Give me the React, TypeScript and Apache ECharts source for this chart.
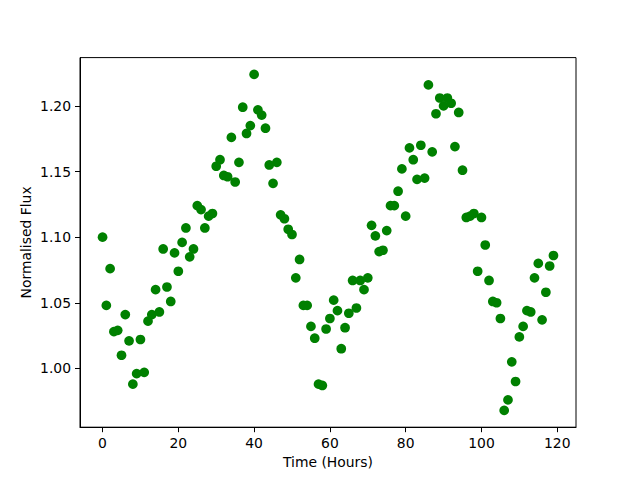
import React, { useEffect, useRef } from "react";
import * as echarts from "echarts";

const hours: number[] = Array.from({ length: 120 }, (_, i) => i);

const flux: number[] = [
  1.100, 1.048, 1.076, 1.028, 1.029, 1.010, 1.041, 1.021, 0.988, 0.996,
  1.022, 0.997, 1.036, 1.041, 1.060, 1.043, 1.091, 1.062, 1.051, 1.088,
  1.074, 1.096, 1.107, 1.085, 1.091, 1.124, 1.121, 1.107, 1.116, 1.118,
  1.154, 1.159, 1.147, 1.146, 1.176, 1.142, 1.157, 1.199, 1.179, 1.185,
  1.224, 1.197, 1.193, 1.183, 1.155, 1.141, 1.157, 1.117, 1.114, 1.106,
  1.102, 1.069, 1.083, 1.048, 1.048, 1.032, 1.023, 0.988, 0.987, 1.030,
  1.038, 1.052, 1.044, 1.015, 1.031, 1.042, 1.067, 1.046, 1.067, 1.060,
  1.069, 1.109, 1.101, 1.089, 1.090, 1.105, 1.124, 1.124, 1.135, 1.152,
  1.116, 1.168, 1.159, 1.144, 1.170, 1.145, 1.216, 1.165, 1.194, 1.206,
  1.200, 1.206, 1.202, 1.169, 1.195, 1.151, 1.115, 1.116, 1.118, 1.074,
  1.115, 1.094, 1.067, 1.051, 1.050, 1.038, 0.968, 0.976, 1.005, 0.990,
  1.024, 1.032, 1.044, 1.043, 1.069, 1.080, 1.037, 1.058, 1.078, 1.086,
];

const xTicks: number[] = [0, 20, 40, 60, 80, 100, 120];
const yTicks: number[] = [1.0, 1.05, 1.1, 1.15, 1.2];

const xLabel = "Time (Hours)";
const yLabel = "Normalised Flux";

export default function App() {
  const ref = useRef<HTMLDivElement>(null);
  useEffect(() => {
    if (!ref.current) return;
    const chart = echarts.init(ref.current, null, { renderer: "svg" });
    const xMinD = Math.min(...hours);
    const xMaxD = Math.max(...hours);
    const yMinD = Math.min(...flux);
    const yMaxD = Math.max(...flux);
    const xm = (xMaxD - xMinD) * 0.05;
    const ym = (yMaxD - yMinD) * 0.05;
    const font = "DejaVu Sans";
    chart.setOption({
      animation: false,
      backgroundColor: "#ffffff",
      grid: {
        left: 80,
        right: 64,
        top: 57.6,
        bottom: 52.8,
        show: true,
        borderColor: "#000",
        borderWidth: 1,
        containLabel: false,
      },
      xAxis: {
        type: "value",
        min: xMinD - xm,
        max: xMaxD + xm,
        name: xLabel,
        nameLocation: "middle",
        nameGap: 28,
        nameMoveOverlap: false,
        nameTextStyle: { fontFamily: font, fontSize: 13.9, color: "#000" },
        axisLine: { show: true, onZero: false, lineStyle: { color: "#000", width: 1 } },
        axisTick: { show: true, length: 5, customValues: xTicks, lineStyle: { color: "#000", width: 1 } },
        axisLabel: {
          customValues: xTicks,
          margin: 9,
          fontFamily: font,
          fontSize: 13.9,
          color: "#000",
          formatter: (v: number) => String(v),
        },
        splitLine: { show: false },
      },
      yAxis: {
        type: "value",
        min: yMinD - ym,
        max: yMaxD + ym,
        name: yLabel,
        nameLocation: "middle",
        nameGap: 47,
        nameRotate: 90,
        nameMoveOverlap: false,
        nameTextStyle: { fontFamily: font, fontSize: 13.9, color: "#000" },
        axisLine: { show: true, onZero: false, lineStyle: { color: "#000", width: 1 } },
        axisTick: { show: true, length: 5, customValues: yTicks, lineStyle: { color: "#000", width: 1 } },
        axisLabel: {
          customValues: yTicks,
          margin: 9,
          fontFamily: font,
          fontSize: 13.9,
          color: "#000",
          formatter: (v: number) => v.toFixed(2),
        },
        splitLine: { show: false },
      },
      series: [
        {
          type: "scatter",
          data: hours.map((h, i) => [h, flux[i]]),
          symbol: "circle",
          symbolSize: 9.7,
          itemStyle: { color: "#008000", opacity: 1 },
        },
      ],
    });
    return () => chart.dispose();
  }, []);
  return <div ref={ref} style={{ width: 640, height: 480, position: "absolute", left: 0, top: 0 }} />;
}
